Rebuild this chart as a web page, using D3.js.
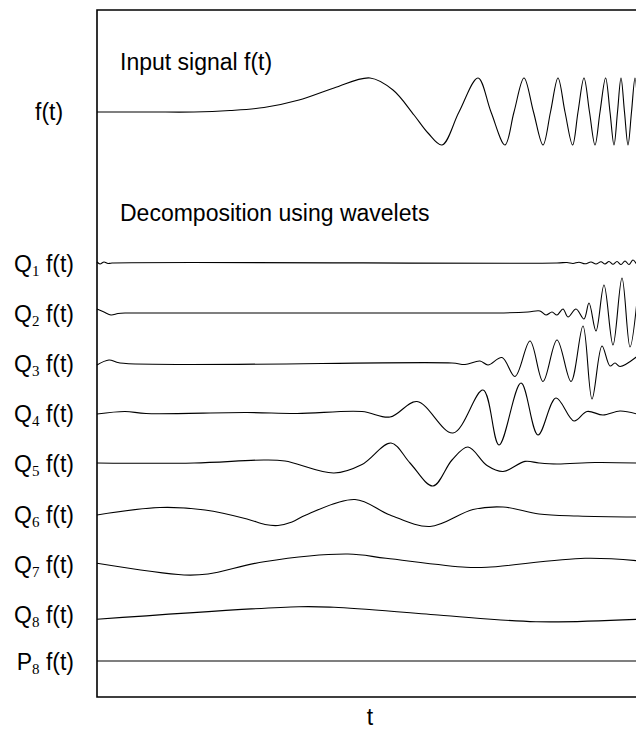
<!DOCTYPE html>
<html>
<head>
<meta charset="utf-8">
<script src="https://cdn.jsdelivr.net/npm/d3@7"></script>
<style>
  html, body { margin: 0; padding: 0; background: #fff; }
  svg { display: block; font-family: "Liberation Sans", Arial, Helvetica, sans-serif; }
  .sub { font-family: "Liberation Serif", "Times New Roman", serif; }
</style>
</head>
<body>
<div id="chart"></div>
<script>
// samples: [t, amplitude], t runs 0..540 across the frame
const signal = [
  [0, 0], [53, 0], [97, 0], [133, 1.5], [167, 4.5], [202, 12], [237, 24], [273, 34],
  [296, 22], [317, -3], [331, -21], [345, -33], [362, 0], [381, 34], [394, 0],
  [408, -33], [417, 0], [427, 34], [436.5, 0], [446, -33], [453.5, 0], [461, 34],
  [468, 0], [475.6, -33], [481, 0], [487, 34], [492.5, 0], [498, -33], [503, 0],
  [508.6, 34], [513, 0], [517, -33], [520.5, 0], [524, 34], [527.5, 0], [531, -33],
  [534.5, 0], [538, 34], [541, 0]
];
const q1 = [
  [0, 1], [3, -1], [7, 1], [11, -0.5], [15, 0], [460, 0], [470, 0.5], [476, -0.5],
  [482, 0.8], [488, -0.8], [494, 1], [499, -1], [504, 1.2], [508, -1], [512, 1.5],
  [516, -1.2], [520, 1.5], [524, -1.5], [528, 2], [532, -1.5], [536, 3], [540, -2]
];
const q2 = [
  [0, 4], [7, 1], [14, -2], [21, -0.5], [28, 0], [400, 0], [431, 1], [443, 2],
  [449, -2], [455, 1], [460, -2], [466, 4], [471, -4], [479, 4], [487, -6], [492, 10],
  [499, -18], [507, 28], [516, -32], [525, 35], [533, -34], [541, 22]
];
const q3 = [
  [0, -2], [12, 3], [23, 0], [355, 0], [368, -1.5], [383, 2], [391, -2], [405, 5.5],
  [418, -13.5], [433, 22], [446, -18.5], [460, 23], [474, -18.5], [486, 37], [495, -36],
  [505, 17], [513, -3], [518, 0], [523, -3.5], [540, 6.5]
];
const q4 = [
  [0, -1], [28, 1.5], [49, -0.5], [150, 0.5], [200, -0.5], [265, 1.5], [293, -4],
  [320, 11.5], [356, -20], [386, 23], [402, -32], [424, 30], [441, -22], [459, 15],
  [477, -8], [490, 1.5], [506, -2], [523, 2], [540, -1]
];
const q5 = [
  [0, 0], [97, 0], [167, 3], [188, 2], [237, -10], [265, -1.5], [294, 20], [313, 0],
  [336, -23], [355, 3], [371, 16], [390, -2.5], [406, -8.5], [428, 1.6], [442, 0],
  [460, -1], [498, 0.5], [540, 0]
];
const q6 = [
  [0, -1], [63, 6.5], [108, 4], [150, -5], [168, -10.5], [181, -11.5], [195, -8],
  [209, -1], [258, 14.5], [293, -1], [333, -12.5], [376, 4.5], [406, 7], [442, 0],
  [481, -2], [540, -3]
];
const q7 = [
  [0, 0.7], [87, -11], [111, -10], [167, 2.3], [251, 10], [289, 5.7], [369, -3.3],
  [390, -3.3], [488, 5.7], [540, 3.3]
];
const q8 = [
  [0, -5.3], [202, 7.3], [237, 6.7], [341, -1], [439, -7.7], [540, -5.3]
];
const p8 = [[0, 0], [540, 0]];

const rowLetters = ['Q', 'Q', 'Q', 'Q', 'Q', 'Q', 'Q', 'Q', 'P'];
const rowSubs = ['1', '2', '3', '4', '5', '6', '7', '8', '8'];
const rowSeries = [q1, q2, q3, q4, q5, q6, q7, q8, p8];

const width = 636;
const height = 731;
const frame = { left: 97, right: 640, top: 10, bottom: 697 };
const signalY = 112;
const rowYs = [263, 313, 363, 413, 463, 514, 564, 614, 661];

const svg = d3.select('#chart')
  .append('svg')
  .attr('width', width)
  .attr('height', height);

const x = d3.scaleLinear().domain([0, 540]).range([frame.left, 637]);
const amp = d3.scaleLinear().domain([-40, 40]).range([40, -40]);

const lineAt = (base) => d3.line()
  .x((d) => x(d[0]))
  .y((d) => base + amp(d[1]))
  .curve(d3.curveCatmullRom.alpha(0.5));

// frame (open on the right, runs off the page)
svg.append('path')
  .attr('d', `M${frame.right},${frame.top}H${frame.left}V${frame.bottom}H${frame.right}`)
  .attr('fill', 'none')
  .attr('stroke', '#000')
  .attr('stroke-width', 1.6);

const curves = svg.append('g')
  .attr('fill', 'none')
  .attr('stroke', '#000')
  .attr('stroke-width', 1.1)
  .attr('stroke-linejoin', 'round');

curves.append('path').attr('d', lineAt(signalY)(signal));

curves.selectAll('path.row')
  .data(rowSeries)
  .join('path')
  .classed('row', true)
  .attr('d', (s, i) => lineAt(rowYs[i])(s));

// titles
svg.append('text')
  .attr('x', 120).attr('y', 70)
  .attr('font-size', 23)
  .text('Input signal f(t)');
svg.append('text')
  .attr('x', 120).attr('y', 221)
  .attr('font-size', 23)
  .text('Decomposition using wavelets');

// row labels
svg.append('text')
  .attr('x', 35).attr('y', signalY + 8)
  .attr('font-size', 23)
  .text('f(t)');

const labels = svg.append('g')
  .attr('font-size', 23)
  .attr('text-anchor', 'end');

labels.selectAll('text')
  .data(rowLetters)
  .join('text')
  .attr('x', 74)
  .attr('y', (d, i) => rowYs[i] + 8.5)
  .each(function (d, i) {
    const t = d3.select(this);
    t.append('tspan').text(d);
    t.append('tspan').attr('class', 'sub').attr('font-size', 15).attr('dy', 4.5).text(rowSubs[i]);
    t.append('tspan').attr('dy', -4.5).text('\u00a0f(t)');
  });

svg.append('text')
  .attr('x', 370).attr('y', 725)
  .attr('font-size', 23)
  .attr('text-anchor', 'middle')
  .text('t');
</script>
</body>
</html>
